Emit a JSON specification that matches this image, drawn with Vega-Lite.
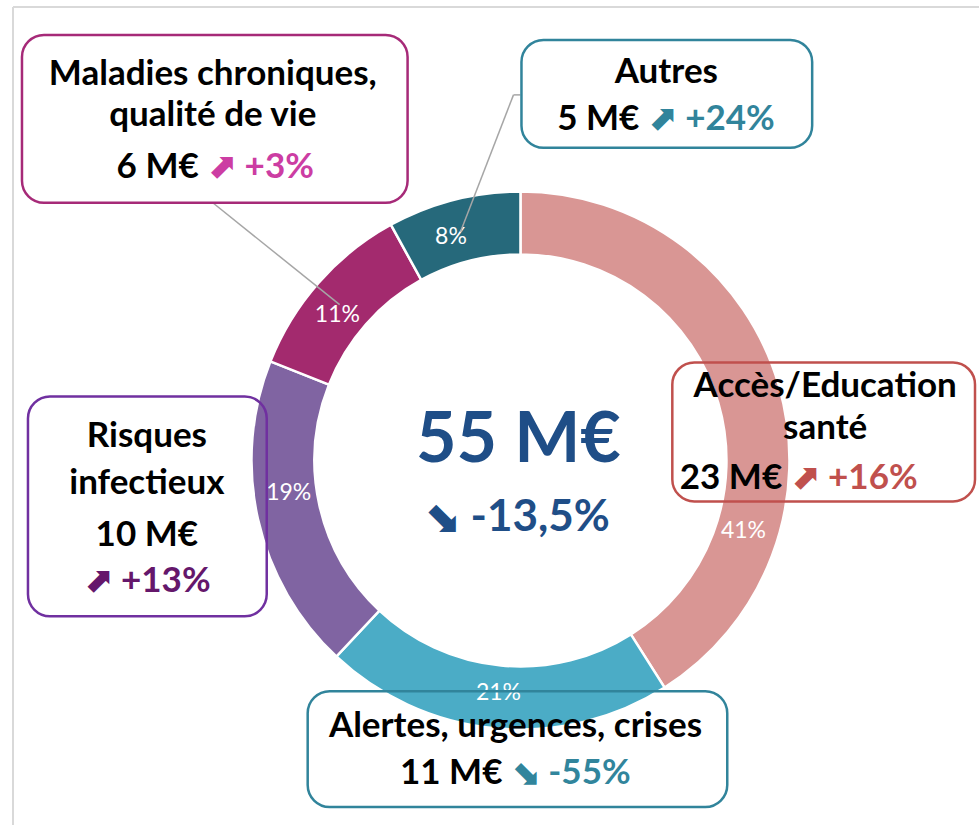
{
  "$schema": "https://vega.github.io/schema/vega-lite/v6.json",
  "width": 980,
  "height": 826,
  "autosize": {"type": "fit", "contains": "padding"},
  "padding": 0,
  "background": "white",
  "config": {"view": {"stroke": null}},
  "datasets": {
    "seg": [
      {"cat": "Accès/Education santé", "pct": 41, "ord": 1},
      {"cat": "Alertes, urgences, crises", "pct": 21, "ord": 2},
      {"cat": "Risques infectieux", "pct": 19, "ord": 3},
      {"cat": "Maladies chroniques, qualité de vie", "pct": 11, "ord": 4},
      {"cat": "Autres", "pct": 8, "ord": 5}
    ],
    "pctlab": [
      {"label": "41%", "a": 29.9},
      {"label": "21%", "a": 51.5},
      {"label": "19%", "a": 72.8},
      {"label": "11%", "a": 85.7},
      {"label": "8%", "a": 95.2}
    ],
    "frame": [
      {"x1": 13, "y1": 7, "x2": 980, "y2": 7},
      {"x1": 13, "y1": 7, "x2": 13, "y2": 826}
    ],
    "leaders": [
      {"x1": 213, "y1": 203, "x2": 340, "y2": 305},
      {"x1": 521, "y1": 95, "x2": 514, "y2": 95},
      {"x1": 514, "y1": 95, "x2": 461, "y2": 232}
    ],
    "boxes": [
      {"tone": "maladies", "x1": 22, "x2": 408, "y1": 35, "y2": 203},
      {"tone": "autres", "x1": 522, "x2": 813, "y1": 40, "y2": 148},
      {"tone": "acces", "x1": 673, "x2": 976, "y1": 363, "y2": 502},
      {"tone": "risques", "x1": 28, "x2": 267, "y1": 397, "y2": 617},
      {"tone": "alertes", "x1": 308, "x2": 728, "y1": 692, "y2": 808}
    ],
    "texts": [
      {"x": 213, "y": 85, "text": "Maladies chroniques,", "part": "full", "tone": "ink"},
      {"x": 213, "y": 126, "text": "qualité de vie", "part": "full", "tone": "ink"},
      {"x": 203, "y": 178, "text": "6 M€", "part": "lead", "tone": "ink"},
      {"x": 203, "y": 178, "text": "⬈ +3%", "part": "tail", "tone": "maladies"},
      {"x": 667, "y": 83, "text": "Autres", "part": "full", "tone": "ink"},
      {"x": 644, "y": 130, "text": "5 M€", "part": "lead", "tone": "ink"},
      {"x": 644, "y": 130, "text": "⬈ +24%", "part": "tail", "tone": "autres"},
      {"x": 826, "y": 397, "text": "Accès/Education", "part": "full", "tone": "ink"},
      {"x": 826, "y": 440, "text": "santé", "part": "full", "tone": "ink"},
      {"x": 787, "y": 490, "text": "23 M€", "part": "lead", "tone": "ink"},
      {"x": 787, "y": 490, "text": "⬈ +16%", "part": "tail", "tone": "acces"},
      {"x": 147, "y": 448, "text": "Risques", "part": "full", "tone": "ink"},
      {"x": 147, "y": 495, "text": "infectieux", "part": "full", "tone": "ink"},
      {"x": 147, "y": 547, "text": "10 M€", "part": "full", "tone": "ink"},
      {"x": 147, "y": 593, "text": "⬈ +13%", "part": "full", "tone": "risques"},
      {"x": 516, "y": 738, "text": "Alertes, urgences, crises", "part": "full", "tone": "ink"},
      {"x": 507, "y": 785, "text": "11 M€", "part": "lead", "tone": "ink"},
      {"x": 507, "y": 785, "text": "⬊ -55%", "part": "tail", "tone": "alertes"},
      {"x": 519, "y": 463, "text": "55 M€", "part": "big", "tone": "total"},
      {"x": 517, "y": 532, "text": "⬊ -13,5%", "part": "sub", "tone": "total"}
    ]
  },
  "layer": [
    {
      "data": {"name": "frame"},
      "mark": {"type": "rule", "color": "#D9D9D9", "strokeWidth": 2},
      "encoding": {
        "x": {"field": "x1", "type": "quantitative", "scale": {"domain": [0, 980], "nice": false, "zero": false}, "axis": null},
        "y": {"field": "y1", "type": "quantitative", "scale": {"domain": [0, 826], "nice": false, "zero": false, "reverse": true}, "axis": null},
        "x2": {"field": "x2"},
        "y2": {"field": "y2"}
      }
    },
    {
      "data": {"name": "seg"},
      "mark": {"type": "arc", "innerRadius": 206, "outerRadius": 269, "stroke": "white", "strokeWidth": 2.5},
      "encoding": {
        "theta": {"field": "pct", "type": "quantitative", "stack": true, "scale": {"domain": [0, 100]}},
        "order": {"field": "ord", "type": "quantitative", "sort": "ascending"},
        "color": {
          "field": "cat", "type": "nominal", "legend": null,
          "scale": {
            "domain": ["Accès/Education santé", "Alertes, urgences, crises", "Risques infectieux", "Maladies chroniques, qualité de vie", "Autres"],
            "range": ["#D99694", "#4BACC6", "#8064A2", "#A32A6E", "#26697B"]
          }
        },
        "x": {"datum": 521, "type": "quantitative", "scale": {"domain": [0, 980], "nice": false, "zero": false}, "axis": null},
        "y": {"datum": 461, "type": "quantitative", "scale": {"domain": [0, 826], "nice": false, "zero": false, "reverse": true}, "axis": null}
      }
    },
    {
      "data": {"name": "pctlab"},
      "mark": {"type": "text", "radius": 234, "color": "white", "fontSize": 23, "font": "Lato", "align": "center", "baseline": "middle"},
      "encoding": {
        "theta": {"field": "a", "type": "quantitative", "stack": null, "scale": {"domain": [0, 100]}},
        "text": {"field": "label"},
        "x": {"datum": 521, "type": "quantitative", "axis": null},
        "y": {"datum": 461, "type": "quantitative", "axis": null}
      }
    },
    {
      "data": {"name": "leaders"},
      "mark": {"type": "rule", "color": "#A6A6A6", "strokeWidth": 1.5},
      "encoding": {
        "x": {"field": "x1", "type": "quantitative", "axis": null},
        "y": {"field": "y1", "type": "quantitative", "axis": null},
        "x2": {"field": "x2"},
        "y2": {"field": "y2"}
      }
    },
    {
      "data": {"name": "boxes"},
      "mark": {"type": "rect", "filled": false, "cornerRadius": 22, "strokeWidth": 2.5},
      "encoding": {
        "x": {"field": "x1", "type": "quantitative", "axis": null},
        "x2": {"field": "x2"},
        "y": {"field": "y1", "type": "quantitative", "axis": null},
        "y2": {"field": "y2"},
        "color": {
          "field": "tone", "type": "nominal", "legend": null,
          "scale": {"domain": ["maladies", "autres", "acces", "risques", "alertes"], "range": ["#A62A78", "#31849B", "#C0504D", "#7030A0", "#31849B"]}
        }
      }
    },
    {
      "data": {"name": "texts"},
      "transform": [{"filter": "datum.part === 'full'"}],
      "mark": {"type": "text", "font": "Lato, DejaVu Sans", "fontWeight": "bold", "fontSize": 35, "align": "center", "baseline": "alphabetic"},
      "encoding": {
        "x": {"field": "x", "type": "quantitative", "axis": null},
        "y": {"field": "y", "type": "quantitative", "axis": null},
        "text": {"field": "text"},
        "color": {
          "field": "tone", "type": "nominal", "legend": null,
          "scale": {"domain": ["ink", "maladies", "autres", "acces", "risques", "alertes", "total"], "range": ["#000000", "#CC3DA3", "#31849B", "#C0504D", "#65176B", "#31859C", "#1F4E87"]}
        }
      }
    },
    {
      "data": {"name": "texts"},
      "transform": [{"filter": "datum.part === 'lead'"}],
      "mark": {"type": "text", "font": "Lato, DejaVu Sans", "fontWeight": "bold", "fontSize": 35, "align": "right", "baseline": "alphabetic", "dx": -4},
      "encoding": {
        "x": {"field": "x", "type": "quantitative", "axis": null},
        "y": {"field": "y", "type": "quantitative", "axis": null},
        "text": {"field": "text"},
        "color": {
          "field": "tone", "type": "nominal", "legend": null,
          "scale": {"domain": ["ink", "maladies", "autres", "acces", "risques", "alertes", "total"], "range": ["#000000", "#CC3DA3", "#31849B", "#C0504D", "#65176B", "#31859C", "#1F4E87"]}
        }
      }
    },
    {
      "data": {"name": "texts"},
      "transform": [{"filter": "datum.part === 'tail'"}],
      "mark": {"type": "text", "font": "Lato, DejaVu Sans", "fontWeight": "bold", "fontSize": 35, "align": "left", "baseline": "alphabetic", "dx": 4},
      "encoding": {
        "x": {"field": "x", "type": "quantitative", "axis": null},
        "y": {"field": "y", "type": "quantitative", "axis": null},
        "text": {"field": "text"},
        "color": {
          "field": "tone", "type": "nominal", "legend": null,
          "scale": {"domain": ["ink", "maladies", "autres", "acces", "risques", "alertes", "total"], "range": ["#000000", "#CC3DA3", "#31849B", "#C0504D", "#65176B", "#31859C", "#1F4E87"]}
        }
      }
    },
    {
      "data": {"name": "texts"},
      "transform": [{"filter": "datum.part === 'big'"}],
      "mark": {"type": "text", "font": "Lato, DejaVu Sans", "fontWeight": "bold", "fontSize": 70, "align": "center", "baseline": "alphabetic", "color": "#1F4E87"},
      "encoding": {
        "x": {"field": "x", "type": "quantitative", "axis": null},
        "y": {"field": "y", "type": "quantitative", "axis": null},
        "text": {"field": "text"}
      }
    },
    {
      "data": {"name": "texts"},
      "transform": [{"filter": "datum.part === 'sub'"}],
      "mark": {"type": "text", "font": "Lato, DejaVu Sans", "fontWeight": "bold", "fontSize": 44, "align": "center", "baseline": "alphabetic", "color": "#1F4E87"},
      "encoding": {
        "x": {"field": "x", "type": "quantitative", "axis": null},
        "y": {"field": "y", "type": "quantitative", "axis": null},
        "text": {"field": "text"}
      }
    }
  ],
  "resolve": {"scale": {"color": "independent"}}
}
